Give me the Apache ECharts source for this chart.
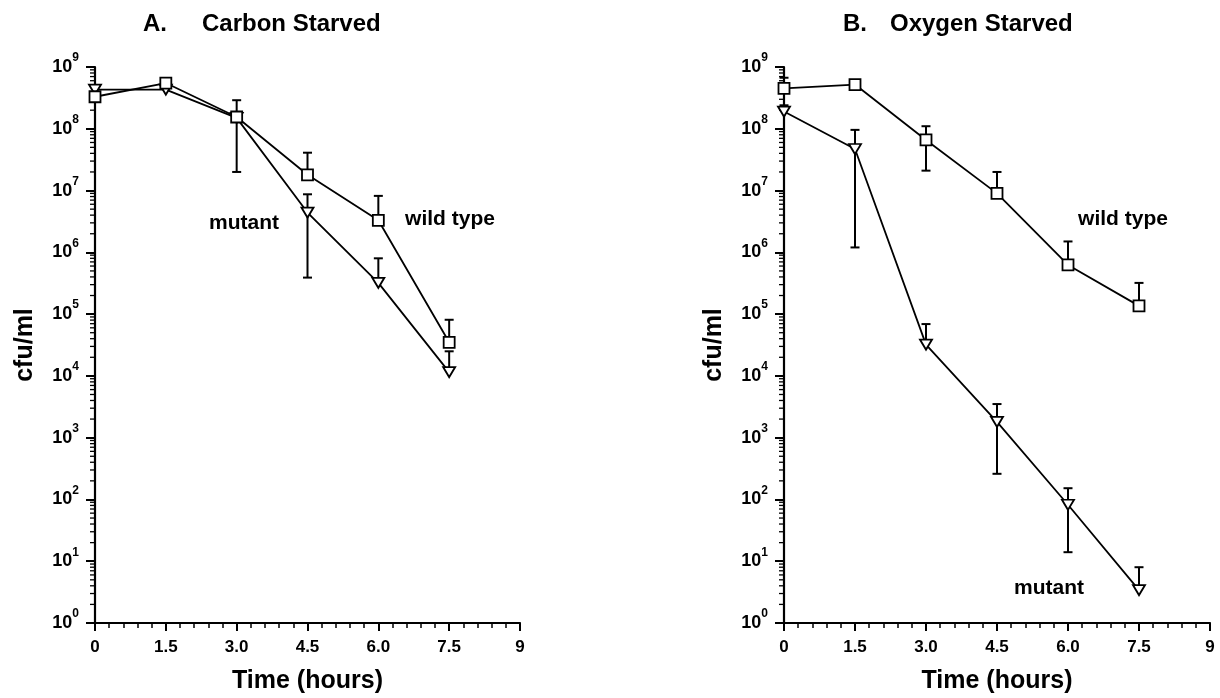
<!DOCTYPE html>
<html>
<head>
<meta charset="utf-8">
<script src="https://cdn.jsdelivr.net/npm/echarts@6/dist/echarts.min.js"></script>
<style>html,body{margin:0;padding:0;background:#fff}#c{width:1220px;height:698px}</style>
</head>
<body>
<div id="c"></div>
<script>
// ---- data ----
const times = [0, 1.5, 3.0, 4.5, 6.0, 7.5];
const xTickValues = [0, 1.5, 3, 4.5, 6, 7.5, 9];
const xTickLabels = ['0', '1.5', '3.0', '4.5', '6.0', '7.5', '9'];
const yExponents = [0, 1, 2, 3, 4, 5, 6, 7, 8, 9];

// A. Carbon starved
const wtCarbon     = [3.3e8, 5.5e8, 1.55e8, 1.8e7, 3.3e6, 3.5e4];
const wtCarbonHigh = [null, null, 2.9e8, 4.1e7, 8.2e6, 8.1e4];
const wtCarbonLow  = [null, null, null, null, null, null];
const mutCarbon     = [4.3e8, 4.3e8, 1.5e8, 4.4e6, 3.2e5, 1.15e4];
const mutCarbonHigh = [4.8e8, null, null, 8.7e6, 8.0e5, 2.5e4];
const mutCarbonLow  = [null, null, 2.0e7, 3.9e5, null, null];

// B. Oxygen starved
const wtOxygen     = [4.5e8, 5.2e8, 6.6e7, 9.0e6, 6.25e5, 1.36e5];
const wtOxygenHigh = [6.7e8, null, 1.1e8, 2.0e7, 1.5e6, 3.2e5];
const wtOxygenLow  = [2.4e8, null, 2.1e7, null, null, null];
const mutOxygen     = [1.9e8, 4.7e7, 3.2e4, 1.8e3, 82, 3.4];
const mutOxygenHigh = [null, 9.6e7, 6.9e4, 3.5e3, 152, 8.0];
const mutOxygenLow  = [null, 1.2e6, null, 2.6e2, 14, null];

const minorMultipliers = [2, 3, 4, 5, 6, 7, 8, 9];

// ---- helpers ----
const FONT = '"Liberation Sans", Arial, sans-serif';
function pts(vals) { return times.map((t, i) => [t, vals[i]]); }
function errData(vals, lo, hi) {
  return times.map((t, i) => [t, vals[i], lo[i] == null ? vals[i] : lo[i], hi[i] == null ? vals[i] : hi[i]]);
}
const minorData = [];
for (let k = 0; k < 9; k++) minorMultipliers.forEach(m => minorData.push([0, m * Math.pow(10, k)]));

function errRender(params, api) {
  const x = api.value(0), v = api.value(1), lo = api.value(2), hi = api.value(3);
  const c = api.coord([x, v]);
  const children = [];
  const cw = 4.5;
  const st = { stroke: '#000', lineWidth: 2 };
  if (hi > v) {
    const h = api.coord([x, hi]);
    children.push({ type: 'line', shape: { x1: c[0], y1: c[1], x2: h[0], y2: h[1] }, style: st });
    children.push({ type: 'line', shape: { x1: h[0] - cw, y1: h[1], x2: h[0] + cw, y2: h[1] }, style: st });
  }
  if (lo < v) {
    const l = api.coord([x, lo]);
    children.push({ type: 'line', shape: { x1: c[0], y1: c[1], x2: l[0], y2: l[1] }, style: st });
    children.push({ type: 'line', shape: { x1: l[0] - cw, y1: l[1], x2: l[0] + cw, y2: l[1] }, style: st });
  }
  return { type: 'group', children };
}
function minorRender(params, api) {
  const p = api.coord([api.value(0), api.value(1)]);
  return { type: 'line', shape: { x1: p[0] - 5, y1: p[1], x2: p[0] + 1, y2: p[1] }, style: { stroke: '#000', lineWidth: 1.3 } };
}

function xAxisCfg(gi) {
  return {
    type: 'value', gridIndex: gi, min: 0, max: 9, interval: 1.5,
    name: 'Time (hours)', nameLocation: 'middle', nameGap: 46,
    nameTextStyle: { fontFamily: FONT, fontWeight: 'bold', fontSize: 25, color: '#000' },
    axisLine: { show: true, onZero: false, lineStyle: { color: '#000', width: 2.2 } },
    axisTick: { show: true, length: 8, lineStyle: { color: '#000', width: 2 } },
    minorTick: { show: true, splitNumber: 5, length: 5, lineStyle: { color: '#000', width: 1.5 } },
    splitLine: { show: false },
    axisLabel: {
      margin: 16, color: '#000', fontFamily: FONT, fontWeight: 'bold', fontSize: 17, hideOverlap: false,
      formatter: v => { const i = xTickValues.findIndex(t => Math.abs(t - v) < 1e-6); return i >= 0 ? xTickLabels[i] : ''; }
    }
  };
}
function yAxisCfg(gi) {
  return {
    type: 'log', logBase: 10, gridIndex: gi, min: 1, max: 1e9, splitNumber: 9,
    name: 'cfu/ml', nameLocation: 'middle', nameGap: 57, nameRotate: 90,
    nameTextStyle: { fontFamily: FONT, fontWeight: 'bold', fontSize: 25, color: '#000' },
    axisLine: { show: true, onZero: false, lineStyle: { color: '#000', width: 2.2 } },
    axisTick: { show: true, length: 9, lineStyle: { color: '#000', width: 2 } },
    minorTick: { show: false },
    splitLine: { show: false },
    axisLabel: {
      margin: 16, color: '#000', hideOverlap: false,
      formatter: v => {
        const e = Math.round(Math.log10(v));
        if (yExponents.indexOf(e) < 0) return '';
        return '{b|10}{s|' + e + '}';
      },
      rich: {
        b: { fontFamily: FONT, fontWeight: 'bold', fontSize: 18, color: '#000' },
        s: { fontFamily: FONT, fontWeight: 'bold', fontSize: 12, color: '#000', padding: [0, 0, 18, 0] }
      }
    }
  };
}

function panelSeries(gi, wt, wtLo, wtHi, mut, mutLo, mutHi) {
  const common = { xAxisIndex: gi, yAxisIndex: gi };
  return [
    Object.assign({ type: 'custom', renderItem: minorRender, data: minorData, clip: false, z: 1, silent: true }, common),
    Object.assign({ type: 'custom', renderItem: errRender, data: errData(wt, wtLo, wtHi), clip: false, z: 1, encode: { x: 0, y: 1 }, silent: true }, common),
    Object.assign({ type: 'custom', renderItem: errRender, data: errData(mut, mutLo, mutHi), clip: false, z: 1, encode: { x: 0, y: 1 }, silent: true }, common),
    Object.assign({
      type: 'line', name: 'mutant', data: pts(mut), symbol: 'triangle', symbolRotate: 180, symbolSize: [12, 10],
      lineStyle: { color: '#000', width: 1.8 }, itemStyle: { color: '#fff', borderColor: '#000', borderWidth: 1.8 },
      z: 3, animation: false
    }, common),
    Object.assign({
      type: 'line', name: 'wild type', data: pts(wt), symbol: 'rect', symbolSize: 11,
      lineStyle: { color: '#000', width: 1.8 }, itemStyle: { color: '#fff', borderColor: '#000', borderWidth: 1.8 },
      z: 4, animation: false
    }, common)
  ];
}

const textStyle = (t, x, y, size, align) => ({
  type: 'text', x: x, y: y,
  style: { text: t, fill: '#000', font: 'bold ' + size + 'px ' + FONT, textAlign: align || 'left', textVerticalAlign: 'middle' }
});

const chart = echarts.init(document.getElementById('c'), null, { renderer: 'canvas' });
chart.setOption({
  animation: false,
  backgroundColor: '#fff',
  grid: [
    { left: 95, top: 67, width: 425, height: 556, outerBoundsMode: 'none' },
    { left: 784, top: 67, width: 426, height: 556, outerBoundsMode: 'none' }
  ],
  xAxis: [xAxisCfg(0), xAxisCfg(1)],
  yAxis: [yAxisCfg(0), yAxisCfg(1)],
  series: [].concat(
    panelSeries(0, wtCarbon, wtCarbonLow, wtCarbonHigh, mutCarbon, mutCarbonLow, mutCarbonHigh),
    panelSeries(1, wtOxygen, wtOxygenLow, wtOxygenHigh, mutOxygen, mutOxygenLow, mutOxygenHigh)
  ),
  graphic: [
    textStyle('A.', 143, 24, 24),
    textStyle('Carbon Starved', 202, 24, 24),
    textStyle('B.', 843, 24, 24),
    textStyle('Oxygen Starved', 890, 24, 24),
    textStyle('mutant', 244, 223, 21, 'center'),
    textStyle('wild type', 450, 219, 21, 'center'),
    textStyle('wild type', 1123, 219, 21, 'center'),
    textStyle('mutant', 1049, 588, 21, 'center')
  ]
});
</script>
</body>
</html>
